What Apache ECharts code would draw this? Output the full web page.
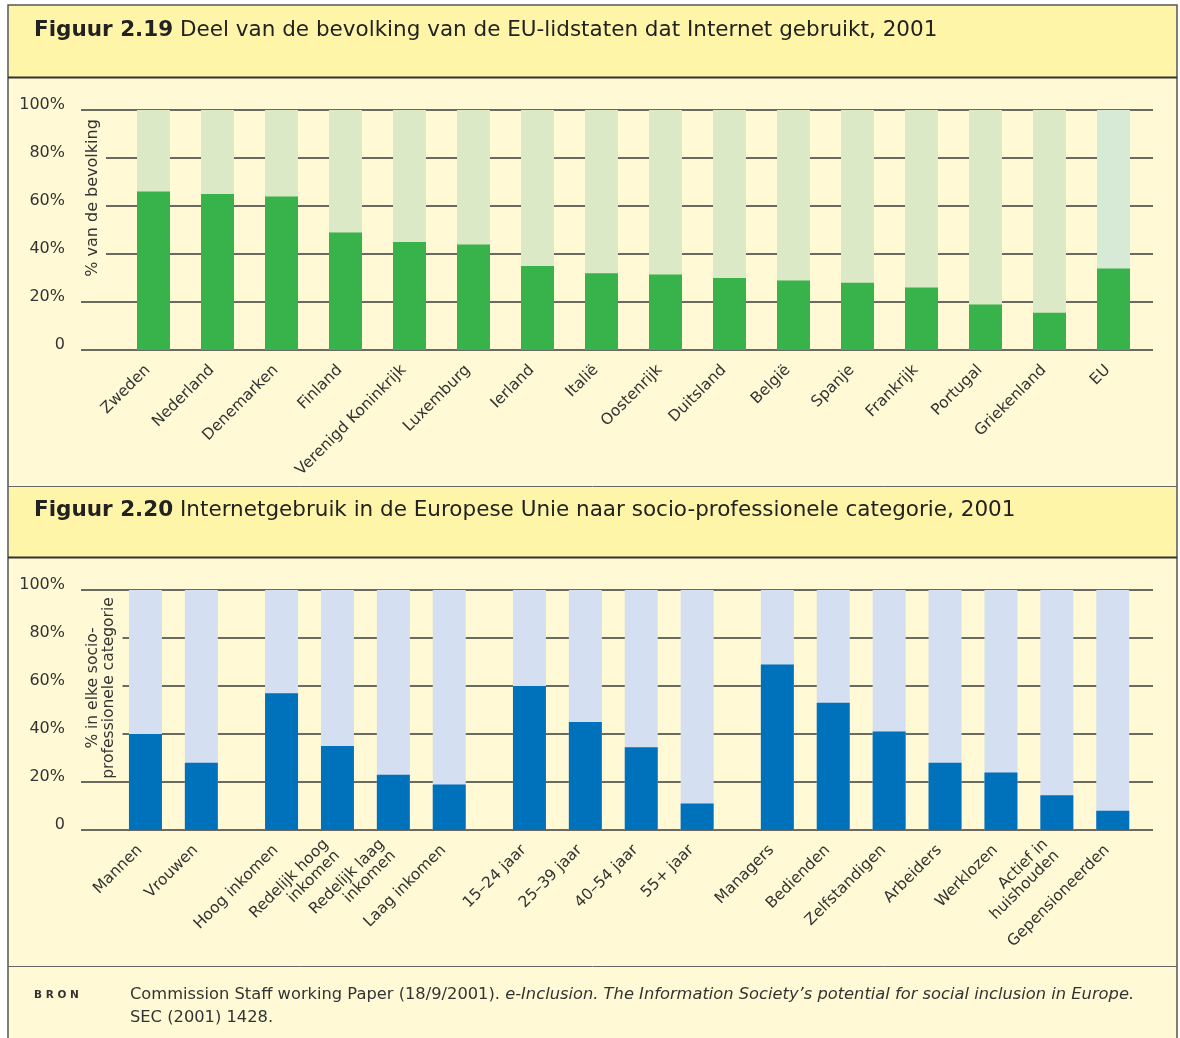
<!DOCTYPE html>
<html>
<head>
<meta charset="utf-8">
<script src="https://cdn.jsdelivr.net/npm/echarts@6/dist/echarts.min.js"></script>
<style>
html, body { margin: 0; padding: 0; background: #fff; }
#chart { width: 1180px; height: 1038px; }
</style>
</head>
<body>
<div id="chart"></div>
<script>
// Figuur 2.19
const countries = ['Zweden', 'Nederland', 'Denemarken', 'Finland', 'Verenigd Koninkrijk', 'Luxemburg', 'Ierland', 'Italië',
    'Oostenrijk', 'Duitsland', 'België', 'Spanje', 'Frankrijk', 'Portugal', 'Griekenland', 'EU'];
const countryValues = [66, 65, 64, 49, 45, 44, 35, 32, 31.5, 30, 29, 28, 26, 19, 15.5, 34];

// Figuur 2.20, one pair of arrays per group of bars
const sexLabels = ['Mannen', 'Vrouwen'];
const sexValues = [40, 28];
const incomeLabels = ['Hoog inkomen', 'Redelijk hoog\ninkomen', 'Redelijk laag\ninkomen', 'Laag inkomen'];
const incomeValues = [57, 35, 23, 19];
const ageLabels = ['15–24 jaar', '25–39 jaar', '40–54 jaar', '55+ jaar'];
const ageValues = [60, 45, 34.5, 11];
const jobLabels = ['Managers', 'Bedienden', 'Zelfstandigen', 'Arbeiders', 'Werklozen', 'Actief in\nhuishouden', 'Gepensioneerden'];
const jobValues = [69, 53, 41, 28, 24, 14.5, 8];

const yTicks = [0, 20, 40, 60, 80, 100];

const FONT = '"DejaVu Sans", Verdana, sans-serif';
const PANEL = '#fffad5';
const BAND = '#fff5a8';
const TEXT = '#333';

const chart = echarts.init(document.getElementById('chart'));

const grids = [];
const xAxes = [];
const yAxes = [];
const series = [];

/** a grid that only draws the horizontal lines and the % labels */
const addLineGrid = (top) => {
    const i = grids.length;
    grids.push({ left: 81, right: 27, top: top, height: 240 });
    xAxes.push({ gridIndex: i, type: 'value', show: false });
    yAxes.push({
        gridIndex: i, type: 'value', min: 0, max: 100, interval: 20,
        axisLine: { show: false }, axisTick: { show: false },
        splitLine: { lineStyle: { color: '#3a3a3a', width: 1.5 } },
        axisLabel: {
            margin: 16, fontSize: 16, color: TEXT, fontFamily: FONT, verticalAlign: 'bottom', lineHeight: 10,
            formatter: (v) => (yTicks.includes(v) ? (v === 0 ? '0' : v + '%') : ''),
        },
    });
};

/** a grid with bars over a light full-height backdrop */
const addBarGrid = (left, width, top, labels, values, color, shade, lastShade) => {
    const i = grids.length;
    grids.push({ left: left, width: width, top: top, height: 240 });
    xAxes.push({
        gridIndex: i, type: 'category', data: labels,
        axisLine: { show: false }, axisTick: { show: false },
        axisLabel: {
            interval: 0, rotate: 45, margin: 12, padding: [0, 8, 0, 0],
            fontSize: 15.5, lineHeight: 16, color: TEXT, fontFamily: FONT,
        },
    });
    yAxes.push({ gridIndex: i, type: 'value', min: 0, max: 100, show: false });
    series.push({
        type: 'bar', xAxisIndex: i, yAxisIndex: i, barWidth: 33, barGap: '-100%', silent: true,
        itemStyle: { color: shade },
        data: labels.map((l, k) => (lastShade && k === labels.length - 1 ? { value: 100, itemStyle: { color: lastShade } } : 100)),
    });
    series.push({
        type: 'bar', xAxisIndex: i, yAxisIndex: i, barWidth: 33, silent: true,
        itemStyle: { color: color }, data: values,
    });
};

addLineGrid(110);
addBarGrid(121.5, 1024, 110, countries, countryValues, '#38b24a', '#dbe9c6', '#d6ead6');

addLineGrid(590);
const BLUE = '#0071bb';
const LIGHT_BLUE = '#d4dff1';
const step = 55.9;
const gap = 24.3;
let x0 = 117.5;
for (const [labels, values] of [[sexLabels, sexValues], [incomeLabels, incomeValues], [ageLabels, ageValues], [jobLabels, jobValues]]) {
    addBarGrid(x0, labels.length * step, 590, labels, values, BLUE, LIGHT_BLUE);
    x0 += labels.length * step + gap;
}

const hline = (y, w, color) => ({
    type: 'line', z: -5, shape: { x1: 8, y1: y, x2: 1177, y2: y }, style: { stroke: color, lineWidth: w },
});

// rotated axis name; padding[0] widens it across the lines, padding[1] along them
const sideName = (x, y, text, size, pad) => ({
    type: 'text', z: 100, x: x, y: y, rotation: Math.PI / 2,
    style: {
        text: text, font: size + 'px ' + FONT, fill: TEXT, align: 'center', verticalAlign: 'middle',
        lineHeight: 16, backgroundColor: PANEL, padding: pad,
    },
});

const title = (y, num, text) => ({
    type: 'text', z: 100, x: 34, y: y,
    style: {
        text: '{b|' + num + '} ' + text, font: '21.5px ' + FONT, fill: '#222', verticalAlign: 'middle',
        rich: { b: { fontWeight: 'bold', fontSize: 21.5, fontFamily: FONT, fill: '#222' } },
    },
});

chart.setOption({
    animation: false,
    backgroundColor: '#fff',
    grid: grids,
    xAxis: xAxes,
    yAxis: yAxes,
    series: series,
    graphic: [
        { type: 'rect', z: -10, shape: { x: 8, y: 5, width: 1169, height: 1040 }, style: { fill: PANEL, stroke: '#555', lineWidth: 1.5 } },
        { type: 'rect', z: -9, shape: { x: 9, y: 6, width: 1167, height: 71 }, style: { fill: BAND } },
        { type: 'rect', z: -9, shape: { x: 9, y: 487, width: 1167, height: 70 }, style: { fill: BAND } },
        hline(77.5, 2, '#333'),
        hline(486.5, 1, '#666'),
        hline(557.5, 2, '#333'),
        hline(966.5, 1, '#666'),
        title(30, 'Figuur 2.19', 'Deel van de bevolking van de EU-lidstaten dat Internet gebruikt, 2001'),
        title(510, 'Figuur 2.20', 'Internetgebruik in de Europese Unie naar socio-professionele categorie, 2001'),
        sideName(93, 198, '% van de bevolking', 16, [5, 2]),
        sideName(100.5, 688, '% in elke socio-\nprofessionele categorie', 15.5, [6, 0]),
        {
            type: 'text', z: 100, x: 34, y: 995,
            style: { text: 'B R O N', font: 'bold 10.5px ' + FONT, fill: '#333', verticalAlign: 'middle' },
        },
        {
            type: 'text', z: 100, x: 130, y: 983,
            style: {
                text: 'Commission Staff working Paper (18/9/2001). {i|e-Inclusion. The Information Society’s potential for social inclusion in Europe.}\nSEC (2001) 1428.',
                font: '16.3px ' + FONT, fill: '#333', verticalAlign: 'top', lineHeight: 23,
                rich: { i: { fontStyle: 'italic', fontSize: 16.3, fontFamily: FONT, fill: '#333', lineHeight: 23 } },
            },
        },
    ],
});
</script>
</body>
</html>
